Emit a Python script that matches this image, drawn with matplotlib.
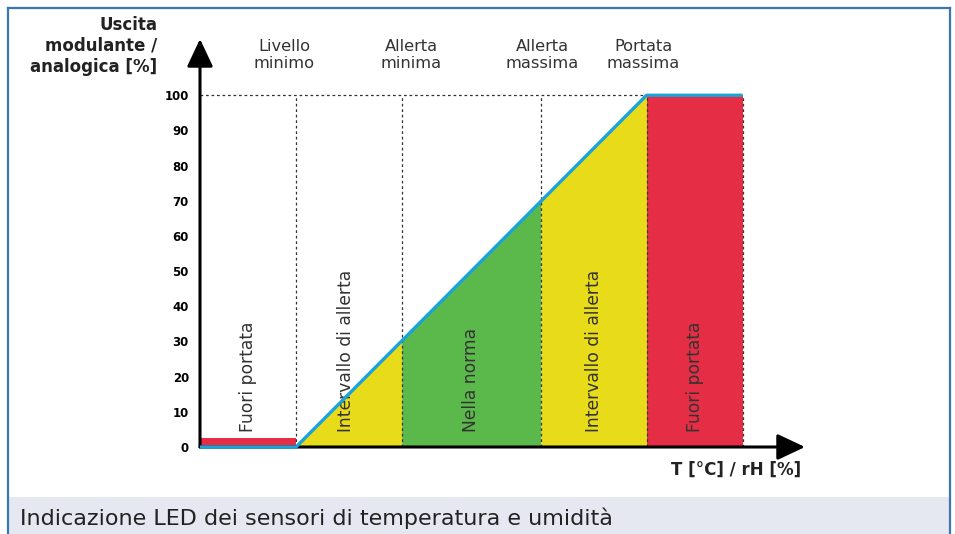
import numpy as np
import matplotlib
matplotlib.use("Agg")
import matplotlib.pyplot as plt
from matplotlib.patches import Rectangle
from matplotlib.lines import Line2D

# ---- data ----
zone_edges = [0, 10, 21, 35.5, 46.5, 56.5]          # T/rH breakpoints
zone_colors = ["#e52d45", "#e8dc1a", "#5ab94a", "#e8dc1a", "#e52d45"]
zone_labels = ["Fuori portata", "Intervallo di allerta", "Nella norma",
               "Intervallo di allerta", "Fuori portata"]
curve_x = [0, 10, 46.5, 56.5]                        # output characteristic
curve_y = [0, 0, 100, 100]
low_bar_height = 2.5
top_labels = ["Livello\nminimo", "Allerta\nminima", "Allerta\nmassima", "Portata\nmassima"]
top_label_px = [284, 411, 542, 643]
yticks = list(range(0, 101, 10))

W, H = 955, 534
fig = plt.figure(figsize=(W / 100, H / 100), dpi=100)
fig.patch.set_facecolor("white")

def fx(px):
    return px / W

def fy(py):
    return 1 - py / H

# frame and caption band
fig.add_artist(Rectangle((fx(8), 0), fx(950) - fx(8), fy(497), transform=fig.transFigure,
                         facecolor="#e5e8f1", edgecolor="none", zorder=0))
for xs, ys in [([fx(8), fx(8)], [0, fy(8)]), ([fx(8), fx(950)], [fy(8), fy(8)]),
               ([fx(950), fx(950)], [fy(8), 0])]:
    fig.add_artist(Line2D(xs, ys, transform=fig.transFigure, color="#3a76b0", lw=1.6))

fig.text(fx(20), fy(518), "Indicazione LED dei sensori di temperatura e umidità",
         ha="left", va="center", fontsize=16, color="#222222")

# main axes: x 0..63 -> px 200..805 ; y 0..116 -> px 447..39
ax = fig.add_axes([fx(200), fy(447), fx(805) - fx(200), fy(39) - fy(447)])
ax.set_xlim(0, 63)
ax.set_ylim(0, 116)
ax.patch.set_alpha(0)
for s in ax.spines.values():
    s.set_visible(False)
ax.set_xticks([])
ax.set_yticks(yticks)
ax.set_yticklabels([str(v) for v in yticks], fontsize=8.5, fontweight="bold")
ax.tick_params(axis="y", length=0, pad=8)

# zones
for i, c in enumerate(zone_colors):
    x0, x1 = zone_edges[i], zone_edges[i + 1]
    if i == 0:
        ax.fill_between([x0, x1], 0, low_bar_height, color=c, lw=0, zorder=1)
    elif i == len(zone_colors) - 1:
        ax.fill_between([x0, x1], 0, 100, color=c, lw=0, zorder=1)
    else:
        xs = np.array([x0, x1])
        ax.fill_between(xs, 0, np.interp(xs, curve_x, curve_y), color=c, lw=0, zorder=1)

# dotted guides
dot = dict(color="#333333", lw=0.9, linestyle=(0, (2.2, 2.2)), zorder=2)
ax.plot([0, curve_x[2]], [100, 100], **dot)
for xv in zone_edges[1:]:
    ax.plot([xv, xv], [0, 100], **dot)

# zone labels (rotated)
for i, lab in enumerate(zone_labels):
    xc = (zone_edges[i] + zone_edges[i + 1]) / 2
    if i == 1:
        xc = 15.2
    ax.text(xc, 4.3, lab, rotation=90, ha="center", va="bottom",
            fontsize=12.3, color="#333333", zorder=4)

# axes with arrows
arr = dict(arrowstyle="-|>,head_width=0.4,head_length=0.85", lw=2.2, color="black",
           mutation_scale=20, shrinkA=0, shrinkB=0)
ax.annotate("", xy=(0, 116), xytext=(0, 0), arrowprops=arr, zorder=3, annotation_clip=False)
ax.annotate("", xy=(63, 0), xytext=(0, 0), arrowprops=arr, zorder=3, annotation_clip=False)

# characteristic curve
ax.plot(curve_x, curve_y, color="#1aa3d8", lw=2.4, zorder=5, solid_capstyle="butt",
        clip_on=False)

# texts
for lab, px in zip(top_labels, top_label_px):
    fig.text(fx(px), fy(55), lab, ha="center", va="center", fontsize=11.7,
             color="#333333", linespacing=1.15)
fig.text(fx(157), fy(46), "Uscita\nmodulante /\nanalogica [%]", ha="right", va="center",
         fontsize=12, fontweight="bold", color="#222222", linespacing=1.2)
fig.text(fx(801), fy(470), "T [°C] / rH [%]", ha="right", va="center",
         fontsize=12, fontweight="bold", color="#222222")

fig.savefig("out.png", dpi=100)
